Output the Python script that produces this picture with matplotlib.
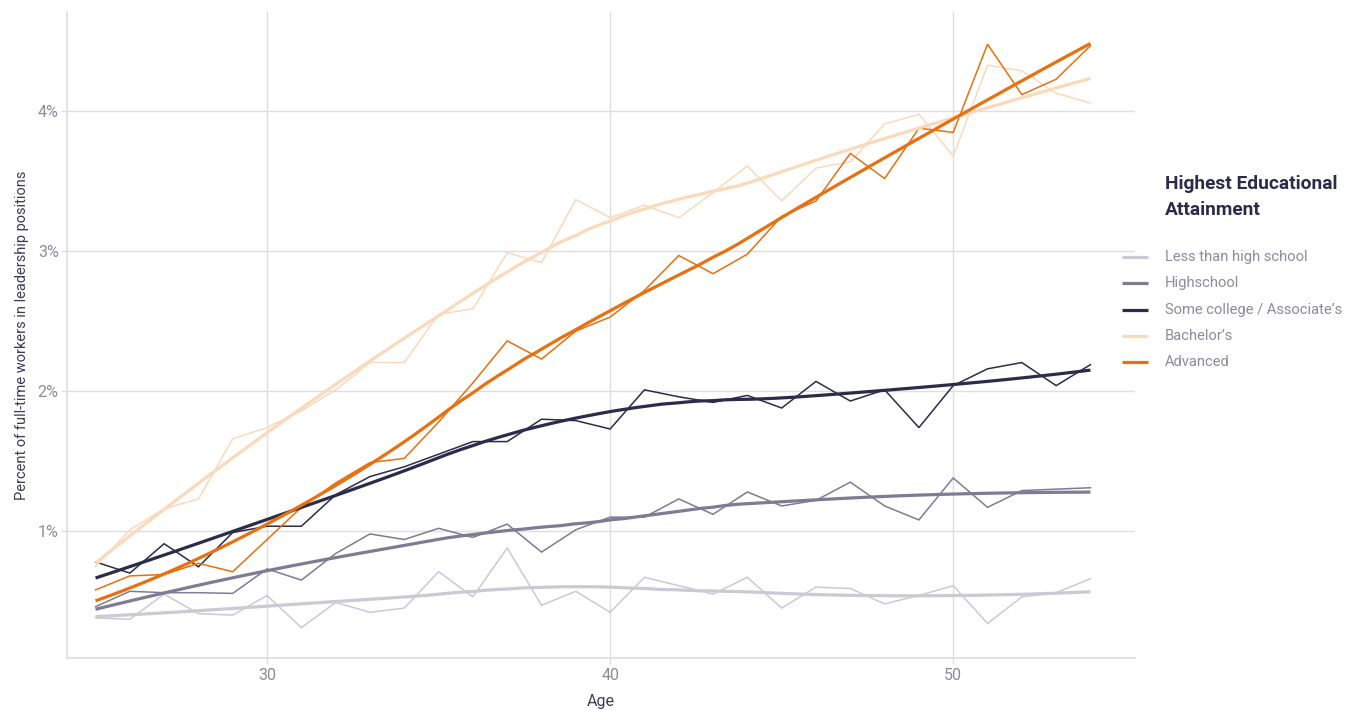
import numpy as np
import matplotlib
matplotlib.use("Agg")
import matplotlib.pyplot as plt
from matplotlib.lines import Line2D

plt.rcParams['font.family'] = ['Roboto', 'DejaVu Sans']

ages = list(range(25, 55))

less_than_hs = [0.38, 0.37, 0.55, 0.41, 0.40, 0.54, 0.31, 0.49, 0.42, 0.45,
                0.71, 0.53, 0.88, 0.47, 0.57, 0.42, 0.67, 0.61, 0.55, 0.67,
                0.45, 0.60, 0.59, 0.48, 0.54, 0.61, 0.34, 0.53, 0.56, 0.66]
highschool = [0.46, 0.57, 0.56, 0.56, 0.555, 0.73, 0.65, 0.84, 0.98, 0.94,
              1.02, 0.955, 1.05, 0.85, 1.01, 1.10, 1.10, 1.23, 1.12, 1.28,
              1.18, 1.22, 1.35, 1.18, 1.08, 1.38, 1.17, 1.29, 1.30, 1.31]
some_college = [0.78, 0.70, 0.91, 0.745, 0.99, 1.035, 1.035, 1.26, 1.39, 1.46,
                1.55, 1.64, 1.64, 1.80, 1.79, 1.73, 2.01, 1.96, 1.92, 1.97,
                1.88, 2.07, 1.93, 2.01, 1.74, 2.04, 2.16, 2.205, 2.04, 2.19]
bachelors = [0.745, 1.01, 1.16, 1.23, 1.66, 1.74, 1.86, 2.01, 2.205, 2.205,
             2.55, 2.59, 2.99, 2.92, 3.37, 3.24, 3.33, 3.24, 3.42, 3.61,
             3.36, 3.595, 3.64, 3.91, 3.98, 3.68, 4.33, 4.29, 4.13, 4.06]
advanced = [0.58, 0.68, 0.69, 0.77, 0.71, 0.94, 1.17, 1.345, 1.49, 1.52,
            1.78, 2.06, 2.36, 2.23, 2.43, 2.53, 2.72, 2.97, 2.84, 2.98,
            3.25, 3.36, 3.70, 3.52, 3.88, 3.85, 4.48, 4.12, 4.23, 4.47]

series_names = ["Less than high school", "Highschool", "Some college / Associate\u2019s",
                "Bachelor\u2019s", "Advanced"]
series_values = [less_than_hs, highschool, some_college, bachelors, advanced]
colors = ["#c9cad4", "#7f7b94", "#2c2b4b", "#fbd9bb", "#e8700f"]
x_ticks = [30, 40, 50]
y_ticks = [1, 2, 3, 4]
y_tick_labels = ["1%", "2%", "3%", "4%"]


def loess(x, y, xout, span=0.75):
    x = np.asarray(x, float)
    y = np.asarray(y, float)
    n = len(x)
    q = int(np.floor(n * span))
    res = []
    for x0 in xout:
        d = np.abs(x - x0)
        dmax = np.sort(d)[q - 1]
        w = np.clip(1 - (d / dmax) ** 3, 0, None) ** 3
        X = np.vstack([np.ones(n), x - x0, (x - x0) ** 2]).T
        W = np.sqrt(w)
        beta, *_ = np.linalg.lstsq(X * W[:, None], y * W, rcond=None)
        res.append(beta[0])
    return np.array(res)


W_PX, H_PX = 1360, 710
fig = plt.figure(figsize=(13.6, 7.1), dpi=100)
ax = fig.add_axes([0.0493, 0.0732, 0.7853, 0.9098])

grid_c = "#dedede"
tick_c = "#8c8a9c"

for v, c in zip(series_values, colors):
    ax.plot(ages, v, color=c, lw=1.1, zorder=3, solid_joinstyle='miter')

xs = np.linspace(min(ages), max(ages), 80)
for v, c in zip(series_values, colors):
    ax.plot(xs, loess(ages, v, xs), color=c, lw=2.3, zorder=4, solid_capstyle='butt')

ax.set_xlim(24.17, 55.3)
ax.set_ylim(0.093, 4.71)
ax.set_xticks(x_ticks)
ax.set_yticks(y_ticks)
ax.set_yticklabels(y_tick_labels)
ax.grid(True, color=grid_c, lw=1.0, zorder=0)
for s in ["top", "right"]:
    ax.spines[s].set_visible(False)
for s in ["left", "bottom"]:
    ax.spines[s].set_color(grid_c)
    ax.spines[s].set_linewidth(1.2)
ax.tick_params(axis='both', colors=grid_c, labelcolor=tick_c, labelsize=11.5, length=4, width=1)
ax.tick_params(axis='x', pad=3)
ax.tick_params(axis='y', pad=2)

ax.set_xlabel("Age", color="#3c3b58", fontsize=11.5, labelpad=8)
ax.set_ylabel("Percent of full-time workers in leadership positions", color="#3c3b58",
              fontsize=10.5, labelpad=6)

# legend (placed in pixel coordinates of the figure)
def fx(px):
    return px / W_PX

def fy(py):
    return 1 - py / H_PX

fig.text(fx(1165), fy(184), "Highest Educational", ha="left", va="center",
         fontsize=13.8, fontweight="bold", color="#2c2b4b")
fig.text(fx(1165), fy(210), "Attainment", ha="left", va="center",
         fontsize=13.8, fontweight="bold", color="#2c2b4b")
entry_y = [257, 283, 310, 336, 362]
for name, c, yy in zip(series_names, colors, entry_y):
    fig.add_artist(Line2D([fx(1122), fx(1148)], [fy(yy), fy(yy)], color=c, lw=2.3,
                          transform=fig.transFigure, solid_capstyle='butt'))
    fig.text(fx(1165), fy(yy), name, ha="left", va="center", fontsize=10.6, color=tick_c)

fig.savefig("out.png", dpi=100, facecolor="white")
